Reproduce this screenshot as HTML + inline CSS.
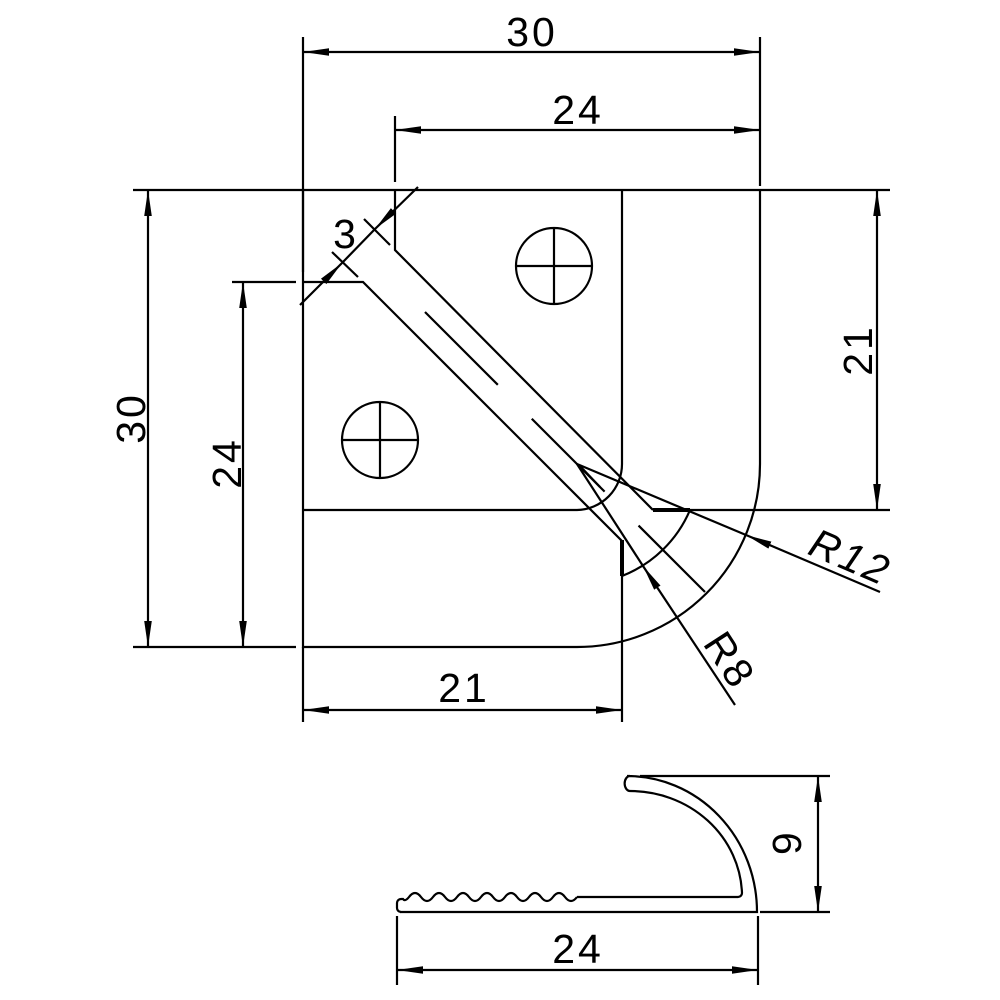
<!DOCTYPE html>
<html><head><meta charset="utf-8"><style>
html,body{margin:0;padding:0;background:#fff}
svg{display:block}
text{font-family:"Liberation Sans",sans-serif;font-size:41px;fill:#000;letter-spacing:3px}
</style></head><body>
<svg width="1000" height="1000" viewBox="0 0 1000 1000" xmlns="http://www.w3.org/2000/svg">
<defs>
<marker id="a" viewBox="0 0 26 10" refX="26" refY="5" markerWidth="26" markerHeight="10" orient="auto-start-reverse" markerUnits="userSpaceOnUse">
<path d="M0,1.2 L26,5 L0,8.8 z" fill="#000"/>
</marker>
</defs>
<g stroke="#000" stroke-width="2.2" fill="none">
<line x1="303" y1="37" x2="303" y2="272"/>
<line x1="760" y1="37" x2="760" y2="186"/>
<line x1="395" y1="116" x2="395" y2="182"/>
<line x1="133" y1="190" x2="890" y2="190"/>
<line x1="133" y1="647" x2="296" y2="647"/>
<line x1="232" y1="282" x2="296" y2="282"/>
<line x1="303" y1="647" x2="303" y2="722"/>
<line x1="622" y1="575" x2="622" y2="722"/>
<line x1="653" y1="510" x2="890" y2="510"/>
<line x1="303" y1="52" x2="760" y2="52" marker-start="url(#a)" marker-end="url(#a)"/>
<line x1="395" y1="130" x2="760" y2="130" marker-start="url(#a)" marker-end="url(#a)"/>
<line x1="148" y1="190" x2="148" y2="647" marker-start="url(#a)" marker-end="url(#a)"/>
<line x1="243" y1="282" x2="243" y2="647" marker-start="url(#a)" marker-end="url(#a)"/>
<line x1="877" y1="190" x2="877" y2="510" marker-start="url(#a)" marker-end="url(#a)"/>
<line x1="303" y1="710" x2="622" y2="710" marker-start="url(#a)" marker-end="url(#a)"/>
<line x1="300" y1="305" x2="342" y2="263" marker-end="url(#a)"/>
<line x1="418" y1="187" x2="375" y2="229" marker-end="url(#a)"/>
<line x1="342" y1="263" x2="375" y2="229"/>
<line x1="332" y1="252" x2="358" y2="277"/>
<line x1="364" y1="219" x2="390" y2="245"/>
<path d="M303,190 V647 H577 A183,183 0 0 0 760,464 V190"/>
<path d="M622,190 V464 A46,46 0 0 1 577,510 H303"/>
<path d="M395,190 V250 L653,510"/>
<path d="M303,282 H363 L622,541"/>
<line x1="653" y1="510" x2="690" y2="510" stroke-width="4"/>
<line x1="622" y1="540" x2="622" y2="576" stroke-width="4"/>
<path d="M690,510 A122,122 0 0 1 622,576"/>
<line x1="425" y1="312" x2="705" y2="592" stroke-dasharray="103 48"/>
<line x1="580" y1="466" x2="600" y2="487"/>
<circle cx="554" cy="266" r="38"/>
<line x1="516" y1="266" x2="592" y2="266"/><line x1="554" y1="228" x2="554" y2="304"/>
<circle cx="380" cy="440" r="38"/>
<line x1="342" y1="440" x2="418" y2="440"/><line x1="380" y1="402" x2="380" y2="478"/>
<line x1="577" y1="464" x2="746" y2="535"/>
<line x1="880" y1="592" x2="746" y2="535" marker-end="url(#a)"/>
<line x1="577" y1="464" x2="643" y2="566"/>
<line x1="735" y1="705" x2="643" y2="566" marker-end="url(#a)"/>
<path d="M400,912 H757 A130,136 0 0 0 627,776 H630 A5,7 0 0 0 630,791 A112,106 0 0 1 742,893 A4,4 0 0 1 738,897 H577"/>
<path d="M577,897 q-6,8 -12,0 q-6,-8 -12,0 q-6,8 -12,0 q-6,-8 -12,0 q-6,8 -12,0 q-6,-8 -12,0 q-6,8 -12,0 q-6,-8 -12,0 q-6,8 -12,0 q-6,-8 -12,0 q-6,8 -12,0 q-6,-8 -12,0 q-6,8 -12,0 q-6,-8 -12,0 q-4,5 -6,2 h-2 a4,4 0 0 0 -4,4 v5 a4,4 0 0 0 4,4"/>
<line x1="640" y1="776" x2="830" y2="776"/>
<line x1="760" y1="912" x2="830" y2="912"/>
<line x1="818" y1="776" x2="818" y2="912" marker-start="url(#a)" marker-end="url(#a)"/>
<line x1="397" y1="916" x2="397" y2="985"/>
<line x1="758" y1="916" x2="758" y2="985"/>
<line x1="397" y1="970" x2="758" y2="970" marker-start="url(#a)" marker-end="url(#a)"/>
</g>
<g text-anchor="middle">
<text x="532" y="46">30</text>
<text x="578" y="124">24</text>
<text transform="translate(145,418) rotate(-90)">30</text>
<text transform="translate(241,463) rotate(-90)">24</text>
<text transform="translate(872,350) rotate(-90)">21</text>
<text x="464" y="702">21</text>
<text x="578" y="963">24</text>
<text transform="translate(773,845) rotate(90)">6</text>
<text x="346" y="248">3</text>
<text transform="translate(845,570) rotate(23)" font-style="italic">R12</text>
<text transform="translate(718,668) rotate(57)">R8</text>
</g>
</svg>
</body></html>
